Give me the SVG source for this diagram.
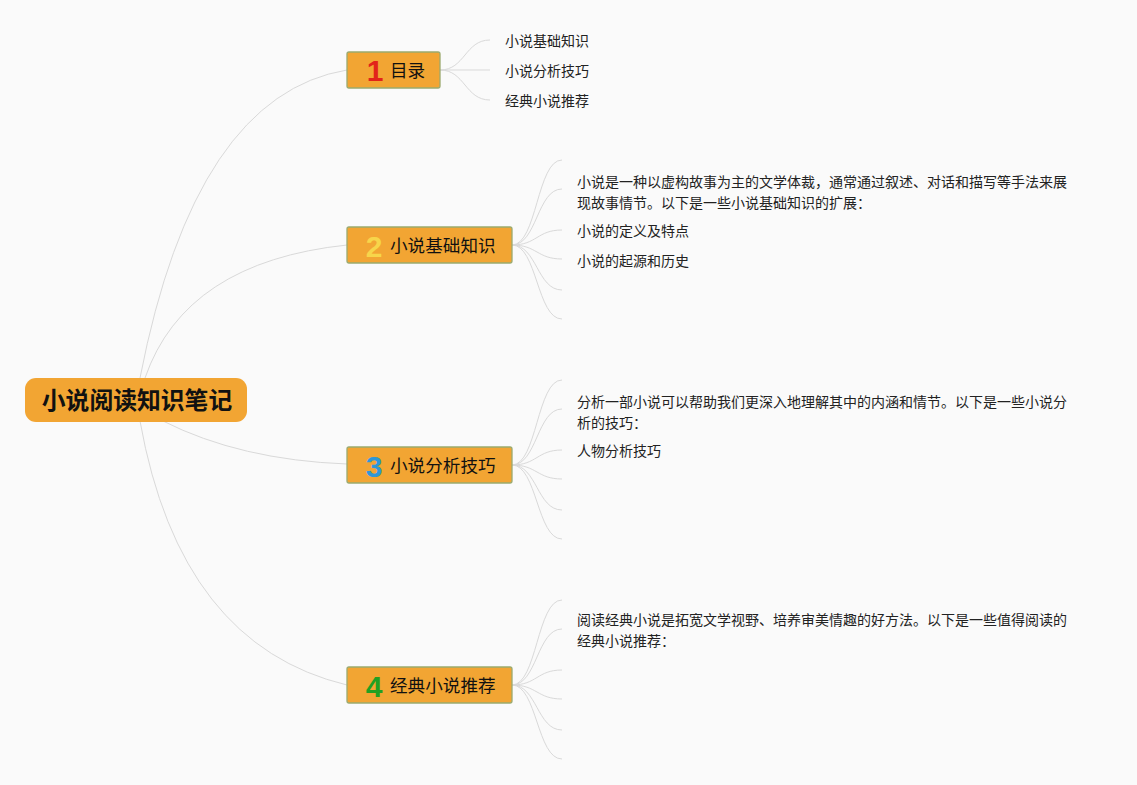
<svg xmlns="http://www.w3.org/2000/svg" width="1137" height="785" viewBox="0 0 1137 785">
<style>
.bg{fill:#FAFAFA}
.ln{fill:none;stroke:#D9D9D9;stroke-width:1}
.root{fill:#F2A533}
.topic{fill:#F2A533;stroke:#9BAA6E;stroke-width:1.3}
.rt{font-family:"Noto Sans CJK SC",sans-serif;font-size:23.8px;font-weight:bold;fill:#111;text-anchor:middle}
.tt{font-family:"Noto Sans CJK SC",sans-serif;font-size:17.6px;fill:#111}
.num{font-family:"Liberation Sans","Noto Sans",sans-serif;font-size:30px;font-weight:bold;text-anchor:middle}
.ct{font-family:"Noto Sans CJK SC",sans-serif;font-size:14px;fill:#222}
</style>
<rect class="bg" x="0" y="0" width="1137" height="785"/>
<g id="connectors">
<path class="ln" d="M140,378 Q195,95 347,70"/>
<path class="ln" d="M145,378 Q185,262 347,245"/>
<path class="ln" d="M163,421 Q240,460 347,464"/>
<path class="ln" d="M140,421 Q180,645 347,685"/>
<path class="ln" d="M440,70 C465,70 465,40 490,40"/>
<path class="ln" d="M440,70 L490,70"/>
<path class="ln" d="M440,70 C465,70 465,100 490,100"/>
<path class="ln" d="M512,245 C537,245 537,160 562,160"/>
<path class="ln" d="M512,245 C537,245 537,189 562,189"/>
<path class="ln" d="M512,245 C537,245 537,230 562,230"/>
<path class="ln" d="M512,245 C537,245 537,259 562,259"/>
<path class="ln" d="M512,245 C537,245 537,290 562,290"/>
<path class="ln" d="M512,245 C537,245 537,319 562,319"/>
<path class="ln" d="M512,465 C537,465 537,380 562,380"/>
<path class="ln" d="M512,465 C537,465 537,409 562,409"/>
<path class="ln" d="M512,465 C537,465 537,450 562,450"/>
<path class="ln" d="M512,465 C537,465 537,479 562,479"/>
<path class="ln" d="M512,465 C537,465 537,510 562,510"/>
<path class="ln" d="M512,465 C537,465 537,539 562,539"/>
<path class="ln" d="M512,685 C537,685 537,600 562,600"/>
<path class="ln" d="M512,685 C537,685 537,629 562,629"/>
<path class="ln" d="M512,685 C537,685 537,670 562,670"/>
<path class="ln" d="M512,685 C537,685 537,699 562,699"/>
<path class="ln" d="M512,685 C537,685 537,730 562,730"/>
<path class="ln" d="M512,685 C537,685 537,759 562,759"/>
</g>
<g id="root">
<rect class="root" x="25" y="378" width="222" height="44" rx="11"/>
<text class="rt" x="137" y="409">小说阅读知识笔记</text>
</g>
<g id="topic1">
<rect class="topic" x="347" y="52" width="93" height="36" rx="2"/>
<text class="num" x="375" y="81" fill="#E2231A">1</text>
<text class="tt" x="390" y="77">目录</text>
</g>
<g id="topic2">
<rect class="topic" x="347" y="227" width="165" height="36" rx="2"/>
<text class="num" x="374" y="257" fill="#F7D54A">2</text>
<text class="tt" x="390" y="252">小说基础知识</text>
</g>
<g id="topic3">
<rect class="topic" x="347" y="447" width="165" height="36" rx="2"/>
<text class="num" x="374" y="477" fill="#2E97D6">3</text>
<text class="tt" x="390" y="472">小说分析技巧</text>
</g>
<g id="topic4">
<rect class="topic" x="347" y="667" width="165" height="36" rx="2"/>
<text class="num" x="374" y="697" fill="#22A022">4</text>
<text class="tt" x="390" y="692">经典小说推荐</text>
</g>
<g id="topic1-children">
<text class="ct" x="505" y="46">小说基础知识</text>
<text class="ct" x="505" y="76">小说分析技巧</text>
<text class="ct" x="505" y="106">经典小说推荐</text>
</g>
<g id="topic2-children">
<text class="ct" x="577" y="187">小说是一种以虚构故事为主的文学体裁，通常通过叙述、对话和描写等手法来展</text>
<text class="ct" x="577" y="208">现故事情节。以下是一些小说基础知识的扩展：</text>
<text class="ct" x="577" y="236">小说的定义及特点</text>
<text class="ct" x="577" y="266">小说的起源和历史</text>
</g>
<g id="topic3-children">
<text class="ct" x="577" y="407">分析一部小说可以帮助我们更深入地理解其中的内涵和情节。以下是一些小说分</text>
<text class="ct" x="577" y="428">析的技巧：</text>
<text class="ct" x="577" y="456">人物分析技巧</text>
</g>
<g id="topic4-children">
<text class="ct" x="577" y="625">阅读经典小说是拓宽文学视野、培养审美情趣的好方法。以下是一些值得阅读的</text>
<text class="ct" x="577" y="646">经典小说推荐：</text>
</g>
</svg>
